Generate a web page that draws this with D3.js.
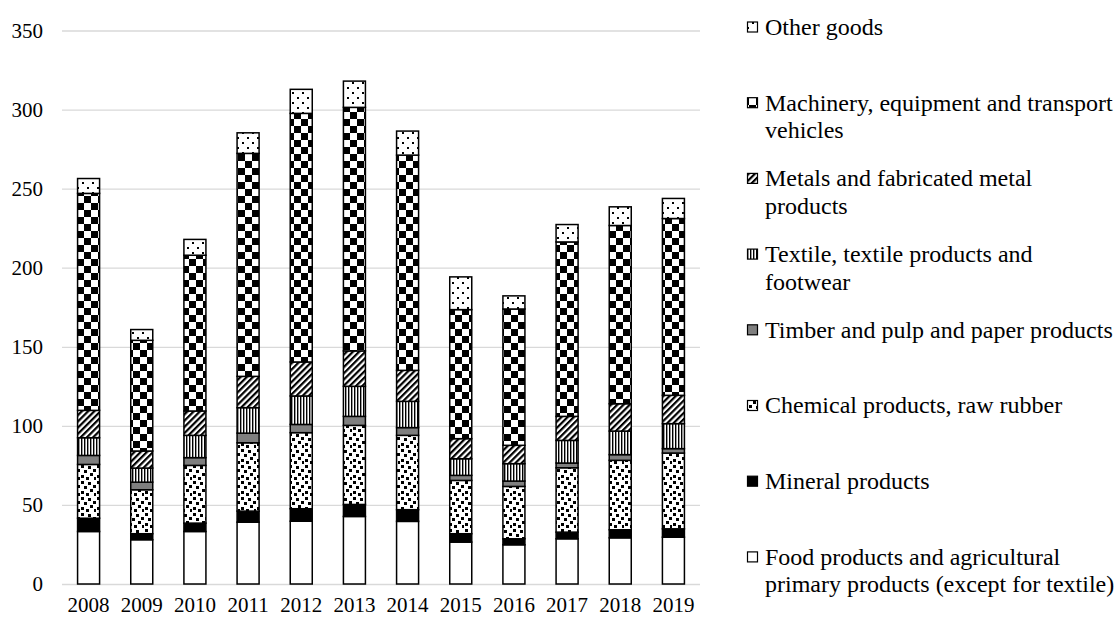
<!DOCTYPE html>
<html>
<head>
<meta charset="utf-8">
<script src="https://cdn.jsdelivr.net/npm/d3@7"></script>
<style>
  html, body { margin: 0; padding: 0; background: #fff; }
  svg { display: block; }
  text { font-family: "Liberation Serif", "Times New Roman", serif; fill: #000; }
</style>
</head>
<body>
<svg id="chart" width="1116" height="617"></svg>
<script>
// ---- data ----
const years = ["2008","2009","2010","2011","2012","2013","2014","2015","2016","2017","2018","2019"];
const yTicks = [0, 50, 100, 150, 200, 250, 300, 350];

const seriesKeys = ["food","mineral","chemical","timber","textile","metals","machinery","other"];
const seriesLabels = [
  ["Food products and agricultural", "primary products (except for textile)"],
  ["Mineral products"],
  ["Chemical products, raw rubber"],
  ["Timber and pulp and paper products"],
  ["Textile, textile products and", "footwear"],
  ["Metals and fabricated metal", "products"],
  ["Machinery, equipment and transport", "vehicles"],
  ["Other goods"]
];

const food      = [33.2, 28.0, 33.2, 39.1, 39.7, 42.7, 39.6, 26.5, 24.8, 28.6, 29.2, 29.6];
const mineral   = [8.4, 3.8, 5.3, 7.0, 7.9, 7.6, 7.4, 5.3, 3.8, 4.2, 5.1, 5.3];
const chemical  = [34.0, 27.8, 36.5, 43.2, 48.1, 50.0, 47.0, 33.7, 33.1, 40.7, 43.9, 47.9];
const timber    = [5.7, 4.8, 4.9, 6.1, 5.2, 5.7, 4.9, 3.2, 3.4, 3.0, 3.6, 2.8];
const textile   = [11.2, 8.9, 14.1, 16.1, 18.0, 19.0, 16.6, 10.5, 11.0, 14.3, 14.9, 15.8];
const metals    = [17.3, 10.8, 15.4, 19.8, 21.5, 22.4, 19.6, 12.7, 11.6, 15.2, 17.3, 17.9];
const machinery = [137.2, 70.0, 98.5, 141.0, 157.2, 154.0, 136.1, 81.6, 86.2, 110.3, 112.7, 111.8];
const other     = [9.4, 6.8, 10.0, 13.0, 15.2, 16.6, 15.2, 20.7, 8.3, 11.0, 11.8, 12.7];

const seriesValues = { food, mineral, chemical, timber, textile, metals, machinery, other };

// ---- build table ----
const table = years.map((yr, i) => {
  const row = { year: yr };
  seriesKeys.forEach(k => row[k] = seriesValues[k][i]);
  return row;
});

const svg = d3.select("#chart");

// ---- patterns ----
const defs = svg.append("defs");
function pat(id, w, h, build, transform) {
  const p = defs.append("pattern").attr("id", id)
    .attr("patternUnits", "userSpaceOnUse").attr("width", w).attr("height", h);
  if (transform) p.attr("patternTransform", transform);
  p.append("rect").attr("width", w).attr("height", h).attr("fill", "#fff");
  build(p);
}
pat("p-checker", 14, 14, p => {
  p.append("rect").attr("x", 0).attr("y", 0).attr("width", 7).attr("height", 7).attr("fill", "#000");
  p.append("rect").attr("x", 7).attr("y", 7).attr("width", 7).attr("height", 7).attr("fill", "#000");
});
pat("p-diag", 4.4, 4.4, p => {
  p.append("rect").attr("x", 0).attr("y", 0).attr("width", 2.2).attr("height", 4.4).attr("fill", "#000");
}, "rotate(45)");
pat("p-vert", 3, 3, p => {
  p.append("rect").attr("x", 0).attr("y", 0).attr("width", 1.4).attr("height", 3).attr("fill", "#000");
});
pat("p-confetti", 16, 16, p => {
  [[1,1],[8,2],[13,5],[4,6],[10,9],[1,11],[14,13],[6,13]].forEach(([x,y]) =>
    p.append("rect").attr("x", x).attr("y", y).attr("width", 3).attr("height", 3).attr("fill", "#000"));
});
pat("p-dots", 10, 10, p => {
  [[2,2],[7,7]].forEach(([x,y]) =>
    p.append("rect").attr("x", x).attr("y", y).attr("width", 2).attr("height", 2).attr("fill", "#000"));
});

const fills = {
  food: "#ffffff",
  mineral: "#000000",
  chemical: "url(#p-confetti)",
  timber: "#7f7f7f",
  textile: "url(#p-vert)",
  metals: "url(#p-diag)",
  machinery: "url(#p-checker)",
  other: "url(#p-dots)"
};

// ---- scales ----
const x = d3.scaleBand().domain(years).range([62, 700]).paddingInner(0.586).paddingOuter(0.293);
const y = d3.scaleLinear().domain([0, 350]).range([584, 30.5]);

// ---- y axis with gridlines ----
const yAxis = svg.append("g").attr("transform", "translate(62,0)")
  .call(d3.axisLeft(y).tickValues(yTicks).tickSize(-638).tickPadding(19).tickFormat(d3.format("d")));
yAxis.select(".domain").remove();
yAxis.selectAll(".tick line").attr("stroke", "#d9d9d9").attr("stroke-width", 1.3);
yAxis.selectAll(".tick text").style("font-size", "21px").style("font-family", "Liberation Serif").attr("fill", "#000");

// ---- x axis ----
const xAxis = svg.append("g").attr("transform", "translate(0,584)")
  .call(d3.axisBottom(x).tickSize(0).tickPadding(13.5));
xAxis.select(".domain").remove();
xAxis.selectAll(".tick text").style("font-size", "21px").style("font-family", "Liberation Serif").attr("fill", "#000");

// ---- bars ----
const stacked = d3.stack().keys(seriesKeys)(table);
svg.append("g").selectAll("g").data(stacked).join("g")
  .attr("fill", d => fills[d.key])
  .selectAll("rect").data(d => d).join("rect")
  .attr("x", d => x(d.data.year))
  .attr("width", x.bandwidth())
  .attr("y", d => y(d[1]))
  .attr("height", d => y(d[0]) - y(d[1]))
  .attr("stroke", "#000")
  .attr("stroke-width", 1.5);

// ---- legend ----
const legendOrder = seriesKeys.map((k, i) => ({ key: k, lines: seriesLabels[i] })).reverse();
const lg = svg.append("g");
legendOrder.forEach((item, i) => {
  const cy = 27 + i * 75.7;
  lg.append("rect").attr("x", 747.5).attr("y", cy - 5).attr("width", 10).attr("height", 10)
    .attr("fill", fills[item.key]).attr("stroke", "#000").attr("stroke-width", 1.2);
  const t = lg.append("text").attr("x", 765).attr("y", cy).style("font-size", "24px");
  item.lines.forEach((ln, j) => {
    t.append("tspan").attr("x", 765).attr("dy", j === 0 ? "0.33em" : "27.5px").text(ln);
  });
});
</script>
</body>
</html>
